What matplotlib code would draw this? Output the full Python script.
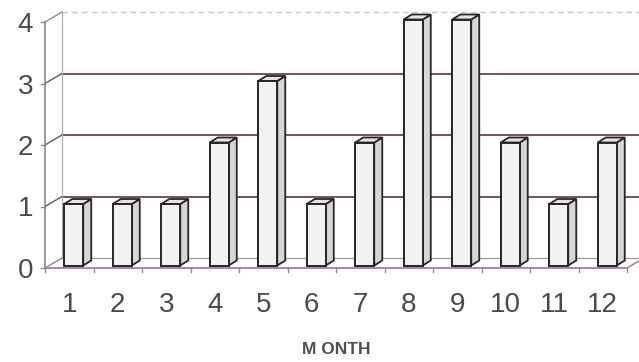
import matplotlib
matplotlib.use("Agg")
import matplotlib.pyplot as plt
from matplotlib.patches import Polygon
import numpy as np

plt.rcParams['font.family'] = ['Liberation Sans', 'DejaVu Sans']

# Data
months = [1, 2, 3, 4, 5, 6, 7, 8, 9, 10, 11, 12]
counts = [1, 1, 1, 2, 3, 1, 2, 4, 4, 2, 1, 2]
y_ticks = [0, 1, 2, 3, 4]
x_label = "M ONTH"

W, H = 639, 362
fig = plt.figure(figsize=(W / 100, H / 100), dpi=100)
ax_left, ax_bottom, ax_w, ax_h = 45, 94, 582, 246
ax = fig.add_axes([ax_left / W, ax_bottom / H, ax_w / W, ax_h / H])
ax.set_xlim(0.5, 12.5)
ax.set_ylim(0, 4)
ax.axis('off')

ux = 12 / ax_w   # data units per pixel (x)
uy = 4 / ax_h    # data units per pixel (y)

WX, WY = 17 * ux, 10 * uy          # wall depth offset
FX, FY = 4.5 * ux, 2.5 * uy        # bar front-face offset
DX, DY = 8 * ux, 5 * uy            # bar depth
BW = 19 * ux                       # bar width

grid_col = '#74506a'
axis_col = '#8a8a8a'

# back wall gridlines
for v in y_ticks[1:]:
    if v == 4:
        ax.plot([0.5 + WX, 12.5 + WX], [v + WY] * 2, color='#c8c8c8', lw=1.0,
                ls=(0, (4, 3)), clip_on=False, zorder=1)
    else:
        ax.plot([0.5 + WX, 12.5 + WX], [v + WY] * 2, color=grid_col, lw=1.4,
                clip_on=False, zorder=1)
# left wall diagonals
for v in y_ticks:
    col = grid_col if 0 < v < 4 else axis_col
    ax.plot([0.5, 0.5 + WX], [v, v + WY], color=col, lw=1.0, clip_on=False, zorder=1)
# back wall left vertical
ax.plot([0.5 + WX] * 2, [WY, 4 + WY], color='#b0b0b0', lw=0.9, clip_on=False, zorder=1)
# floor
ax.plot([0.5 + WX, 12.5 + WX], [WY, WY], color='#9a9a9a', lw=0.9, clip_on=False, zorder=1)
ax.plot([12.5, 12.5 + WX], [0, WY], color='#9a7a9a', lw=1.0, clip_on=False, zorder=1)

# bars (front faces)
xs = np.array(months, dtype=float) + FX
ax.bar(xs, counts, width=BW, bottom=FY, facecolor='#f2f2f2', edgecolor='#262626',
       lw=1.4, zorder=3, clip_on=False)
# side and top faces
for x, v in zip(xs, counts):
    xl, xr = x - BW / 2, x + BW / 2
    side = Polygon([(xr, FY), (xr + DX, FY + DY), (xr + DX, v + FY + DY), (xr, v + FY)],
                   closed=True, facecolor='#d6d6d6', edgecolor='#262626', lw=1.3,
                   zorder=2.5, clip_on=False)
    top = Polygon([(xl, v + FY), (xl + DX, v + FY + DY), (xr + DX, v + FY + DY), (xr, v + FY)],
                  closed=True, facecolor='#e4e4e4', edgecolor='#262626', lw=1.3,
                  zorder=2.5, clip_on=False)
    ax.add_patch(side)
    ax.add_patch(top)

# front axes
ax.plot([0.5, 0.5], [0, 4], color=axis_col, lw=1.2, clip_on=False, zorder=4)
ax.plot([0.5, 12.5], [0, 0], color='#b07fae', lw=1.4, clip_on=False, zorder=4)
for b in np.arange(0.5, 13.0, 1.0):
    ax.plot([b, b], [0, -4 * uy], color=axis_col, lw=1.0, clip_on=False, zorder=4)
for v in y_ticks:
    ax.plot([0.5, 0.5 - 4 * ux], [v, v], color=axis_col, lw=1.0, clip_on=False, zorder=4)

# tick labels
for m in months:
    ax.text(m, -37 * uy, str(m), ha='center', va='center', fontsize=20,
            color='#4a4a4a', clip_on=False)
for v in y_ticks:
    ax.text(0.5 - 12 * ux, v - 3 * uy, str(v), ha='right', va='center', fontsize=20,
            color='#4a4a4a', clip_on=False)

fig.text(336 / W, 1 - 349 / H, x_label, ha='center', va='center', fontsize=12.5,
         fontweight='bold', color='#505050')

fig.savefig('out.png', dpi=100, facecolor='white')
